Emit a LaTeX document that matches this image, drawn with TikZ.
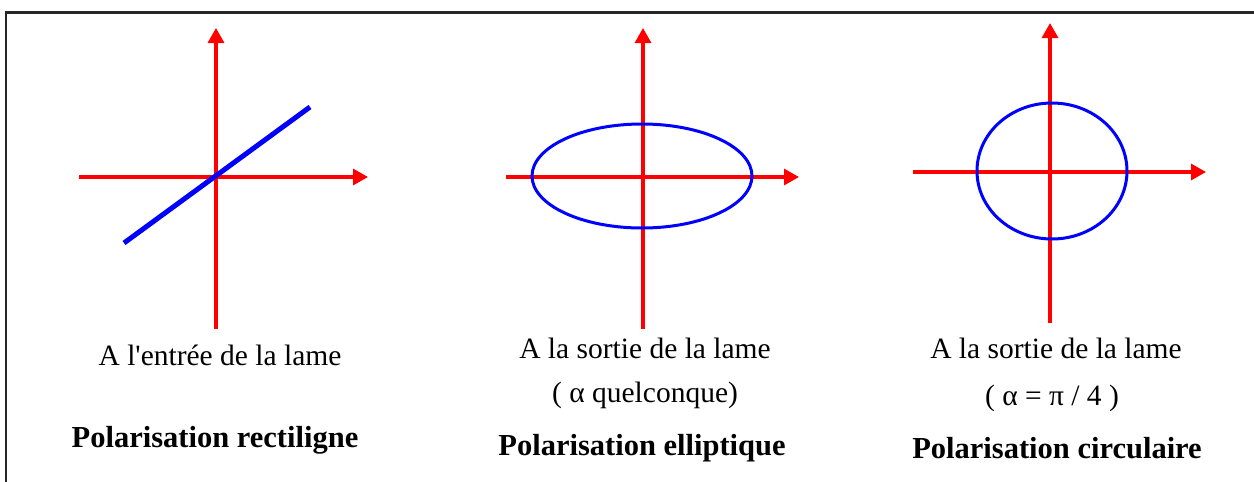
\documentclass[tikz,border=0pt]{standalone}
\usepackage{fontspec}
\setmainfont{Liberation Serif}
\usetikzlibrary{arrows.meta}
\begin{document}
\begin{tikzpicture}[x=1pt,y=-1pt,
  axis/.style={draw=red,line width=3.2pt,-{Triangle[length=15pt,width=16pt]}},
  pol/.style={draw=blue,line width=3pt},
  cap1/.style={anchor=base,font=\fontsize{29.5}{32}\selectfont,inner sep=0pt},
  cap2/.style={anchor=base,font=\fontsize{30.5}{33}\selectfont\bfseries,inner sep=0pt}]
\useasboundingbox (0,0) rectangle (1254,482);
\draw[line width=2.4pt,black!85] (6,482) -- (6,12.5) -- (1254,12.5);

% Panel 1
\coordinate (v1b) at (216,329); \coordinate (v1t) at (216,28);
\coordinate (h1l) at (79,177); \coordinate (h1r) at (368,177);
\draw[axis] (v1b) -- (v1t);
\draw[axis] (h1l) -- (h1r);
\coordinate (p1a) at (124,243); \coordinate (p1b) at (310,107);
\draw[draw=blue,line width=5pt] (p1a) -- (p1b);
\node[cap1] (t1) at (220,365) {A l\textquotesingle entrée de la lame};
\node[cap2] (b1) at (215,447) {Polarisation rectiligne};

% Panel 2
\coordinate (v2b) at (643,329); \coordinate (v2t) at (643,28);
\coordinate (h2l) at (506,177); \coordinate (h2r) at (799,177);
\draw[axis] (v2b) -- (v2t);
\draw[axis] (h2l) -- (h2r);
\draw[pol] (642,176) ellipse [x radius=110, y radius=52];
\node[cap1] (t2) at (645,358) {A la sortie de la lame};
\node[cap1] (u2) at (645,402) {( α quelconque)};
\node[cap2] (b2) at (642,455) {Polarisation elliptique};

% Panel 3
\coordinate (v3b) at (1050,323); \coordinate (v3t) at (1050,23);
\coordinate (h3l) at (913,172); \coordinate (h3r) at (1206,172);
\draw[axis] (v3b) -- (v3t);
\draw[axis] (h3l) -- (h3r);
\draw[pol] (1052,171) ellipse [x radius=75, y radius=68];
\node[cap1] (t3) at (1056,358) {A la sortie de la lame};
\node[cap1] (u3) at (1052,405) {( α = π / 4 )};
\node[cap2] (b3) at (1057,458) {Polarisation circulaire};
\end{tikzpicture}
\end{document}
